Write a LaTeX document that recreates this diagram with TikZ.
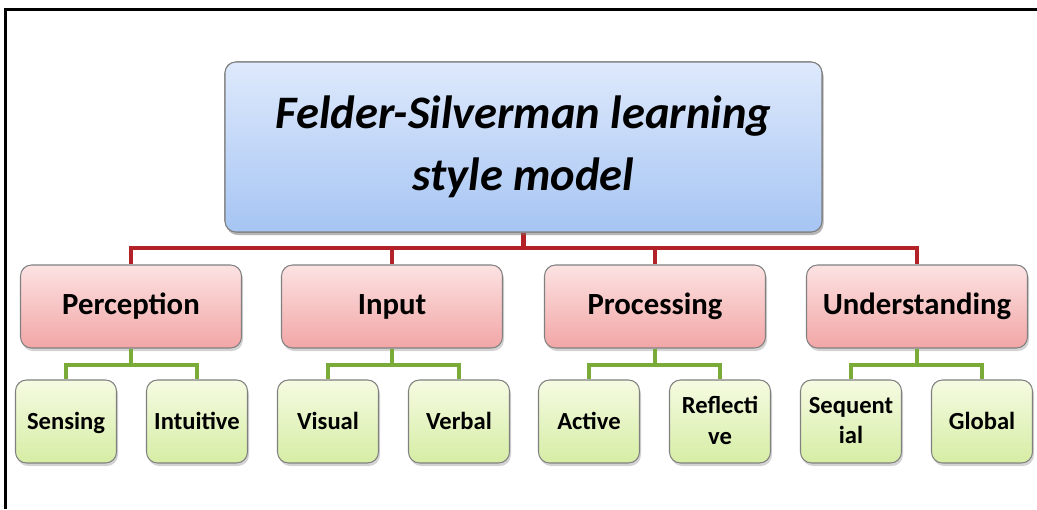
\documentclass[tikz,border=0pt]{standalone}
\usepackage{fontspec}
\setmainfont{Carlito}
\usepackage{tikz}
\usetikzlibrary{shapes, arrows.meta, positioning, shadows, calc}

\definecolor{busred}{RGB}{178,34,40}
\definecolor{busgreen}{RGB}{122,170,56}
\definecolor{boxedge}{RGB}{128,128,128}

\begin{document}
\begin{tikzpicture}[
    box/.style={rectangle, rounded corners=0.22cm, draw=boxedge, line width=0.6pt, align=center,
        font=\bfseries, inner sep=2pt,
        drop shadow={opacity=0.35, shadow xshift=0.03cm, shadow yshift=-0.06cm}},
    model/.style={box, minimum width=11.94cm, minimum height=3.4cm,
        top color={rgb,255:red,222;green,233;blue,252}, bottom color={rgb,255:red,166;green,197;blue,243},
        font=\fontsize{26.5}{35}\selectfont\bfseries\itshape},
    dim/.style={box, minimum width=4.42cm, minimum height=1.66cm,
        top color={rgb,255:red,252;green,226;blue,226}, bottom color={rgb,255:red,242;green,166;blue,166},
        font=\fontsize{17.5}{21}\selectfont\bfseries},
    pole/.style={box, minimum width=2.02cm, minimum height=1.66cm, text depth=0.12em,
        top color={rgb,255:red,245;green,251;blue,226}, bottom color={rgb,255:red,214;green,237;blue,164},
        font=\fontsize{14}{17.5}\selectfont\bfseries},
    redbus/.style={draw=busred, line width=2.3pt},
    greenbus/.style={draw=busgreen, line width=2.6pt}]

    \useasboundingbox (0,0) rectangle (20.74,-10.18);

    % Frame on the left and top
    \draw[line width=0.06cm] (0.1,-10.18) -- (0.1,-0.18) -- (20.74,-0.18);

    % Buses between the levels
    \coordinate (rbus) at (0,-4.96);
    \coordinate (gbus) at (0,-7.3);

    % Top box
    \node[model] (M) at (10.47,-2.94) {Felder-Silverman learning\\style model};

    % The four dimensions
    \foreach \name/\x/\txt in {D1/2.62/Perception, D2/7.84/Input, D3/13.1/Processing, D4/18.34/Understanding} {
        \node[dim] (\name) at (\x,-6.13) {\txt};
    }

    % Leaves, two under each dimension
    \foreach \name/\x/\txt in {L1/1.32/Sensing, L2/3.94/Intuitive, L3/6.56/Visual, L4/9.18/Verbal,
        L5/11.78/Active, L6/14.4/Reflecti\\ve, L7/17.02/Sequent\\ial, L8/19.64/Global} {
        \node[pole] (\name) at (\x,-8.43) {\txt};
    }

    % Red connectors from the model to the dimensions
    \draw[redbus] (M.south) -- (M.south |- rbus);
    \foreach \d in {D1, D2, D3, D4} {
        \draw[redbus] (M.south |- rbus) -| (\d.north);
    }

    % Green connectors from each dimension to its leaves
    \foreach \d/\a/\b in {D1/L1/L2, D2/L3/L4, D3/L5/L6, D4/L7/L8} {
        \draw[greenbus] (\d.south) -- (\d.south |- gbus);
        \draw[greenbus] (\a.north) |- (\d.south |- gbus) -| (\b.north);
    }

    % Redraw boxes over connector ends
    \node[model] at (M) {Felder-Silverman learning\\style model};
\end{tikzpicture}
\end{document}
